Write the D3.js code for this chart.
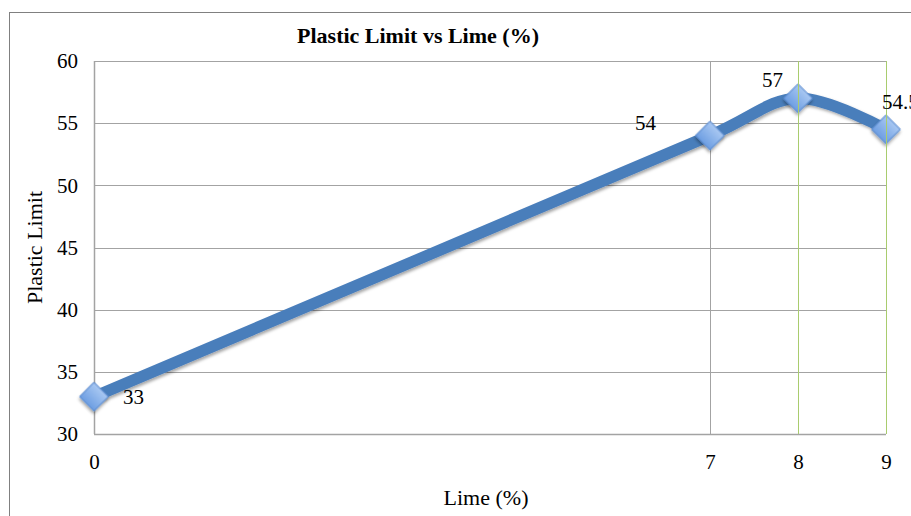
<!DOCTYPE html>
<html>
<head>
<meta charset="utf-8">
<script src="https://cdn.jsdelivr.net/npm/d3@7"></script>
<style>
  html, body { margin: 0; padding: 0; background: #fff; }
  svg { display: block; }
</style>
</head>
<body>
<svg id="chart" width="911" height="516"></svg>
<script>
// Lime content (%) and measured plastic limit
const limePercent = [0, 7, 8, 9];
const plasticLimit = [33, 54, 57, 54.5];
const yTicks = [30, 35, 40, 45, 50, 55, 60];
const xTicks = [0, 7, 8, 9];
const pointLabels = ["33", "54", "57", "54.5"];

const svg = d3.select("#chart");
const W = 911, H = 516;
const margin = { left: 94, top: 61, right: 25, bottom: 82 };

const x = d3.scaleLinear().domain([0, 9]).range([margin.left, W - margin.right]);
const y = d3.scaleLinear().domain([30, 60]).range([H - margin.bottom, margin.top]);

const serif = "'Liberation Serif', 'Times New Roman', serif";

// outer frame
svg.append("rect")
  .attr("x", 9.5).attr("y", 12.5)
  .attr("width", W).attr("height", H)
  .attr("fill", "none").attr("stroke", "#808080").attr("stroke-width", 1);

// horizontal gridlines
svg.append("g")
  .selectAll("line").data(yTicks).join("line")
  .attr("x1", x(0)).attr("x2", x(9))
  .attr("y1", d => Math.round(y(d)) + 0.5).attr("y2", d => Math.round(y(d)) + 0.5)
  .attr("stroke", "#a3a3a3").attr("stroke-width", 1);

// gray vertical gridline at 7 (behind the series)
svg.append("g")
  .selectAll("line").data(xTicks.filter(d => d === 7)).join("line")
  .attr("x1", d => Math.round(x(d)) + 0.5).attr("x2", d => Math.round(x(d)) + 0.5)
  .attr("y1", y(60)).attr("y2", y(30))
  .attr("stroke", "#a3a3a3").attr("stroke-width", 1);

// left axis line
svg.append("line")
  .attr("x1", x(0) + 0.5).attr("x2", x(0) + 0.5)
  .attr("y1", y(60)).attr("y2", y(30))
  .attr("stroke", "#a3a3a3").attr("stroke-width", 1.5);
// bottom axis line
svg.append("line")
  .attr("x1", x(0)).attr("x2", x(9))
  .attr("y1", Math.round(y(30)) + 0.5).attr("y2", Math.round(y(30)) + 0.5)
  .attr("stroke", "#a3a3a3").attr("stroke-width", 1.5);

// y tick labels
const yAxis = d3.axisLeft(y).tickValues(yTicks).tickSize(0).tickPadding(16);
const gy = svg.append("g").attr("transform", `translate(${x(0)},0)`).call(yAxis);
gy.select(".domain").remove();
gy.selectAll("text").attr("font-family", serif).attr("font-size", 21).attr("fill", "#000");

// x tick labels
const xAxis = d3.axisBottom(x).tickValues(xTicks).tickSize(0).tickPadding(20);
const gx = svg.append("g").attr("transform", `translate(0,${y(30)})`).call(xAxis);
gx.select(".domain").remove();
gx.selectAll("text").attr("font-family", serif).attr("font-size", 21).attr("fill", "#000");

// titles
svg.append("text")
  .attr("x", 418).attr("y", 43)
  .attr("text-anchor", "middle")
  .attr("font-family", serif).attr("font-size", 22).attr("font-weight", "bold")
  .text("Plastic Limit vs Lime (%)");

svg.append("text")
  .attr("x", 486).attr("y", 505)
  .attr("text-anchor", "middle")
  .attr("font-family", serif).attr("font-size", 22)
  .text("Lime (%)");

svg.append("text")
  .attr("transform", `translate(42,${y(45)}) rotate(-90)`)
  .attr("text-anchor", "middle")
  .attr("font-family", serif).attr("font-size", 22)
  .text("Plastic Limit");

// data
const pts = limePercent.map((d, i) => ({ x: d, y: plasticLimit[i], label: pointLabels[i] }));

const defs = svg.append("defs");
const grad = defs.append("linearGradient").attr("id", "mk").attr("x1", 0).attr("y1", 0).attr("x2", 0).attr("y2", 1);
grad.append("stop").attr("offset", "0%").attr("stop-color", "#a9c8f2");
grad.append("stop").attr("offset", "100%").attr("stop-color", "#6d9ee2");
const sh = defs.append("filter").attr("id", "shadow").attr("x", "-50%").attr("y", "-50%").attr("width", "200%").attr("height", "200%");
sh.append("feDropShadow").attr("dx", 1.5).attr("dy", 2).attr("stdDeviation", 1.5).attr("flood-color", "#000").attr("flood-opacity", 0.35);

const line = d3.line().x(d => x(d.x)).y(d => y(d.y)).curve(d3.curveCatmullRom.alpha(0.5));
svg.append("path")
  .datum(pts)
  .attr("d", line)
  .attr("fill", "none")
  .attr("stroke", "#4a7ebb")
  .attr("stroke-width", 11.5)
  .attr("stroke-linejoin", "round")
  .attr("filter", "url(#shadow)");

// diamond markers
const diamond = d3.symbol().type(d3.symbolSquare).size(410);
svg.append("g")
  .selectAll("path").data(pts).join("path")
  .attr("d", diamond)
  .attr("transform", d => `translate(${x(d.x)},${y(d.y)}) rotate(45)`)
  .attr("fill", "url(#mk)")
  .attr("stroke", "#5a8cd0")
  .attr("stroke-width", 1)
  .attr("filter", "url(#shadow)");

// green vertical gridlines at 8 and 9, drawn over the series
svg.append("g")
  .selectAll("line").data(xTicks.filter(d => d === 8 || d === 9)).join("line")
  .attr("x1", d => Math.round(x(d)) + 0.5).attr("x2", d => Math.round(x(d)) + 0.5)
  .attr("y1", y(60)).attr("y2", y(30))
  .attr("stroke", "#a9cc6e").attr("stroke-width", 1);

// value labels
const labelOffsets = [[29, 7], [-75, -6], [-36, -11], [-4, -20]];
svg.append("g")
  .selectAll("text").data(pts).join("text")
  .attr("x", (d, i) => x(d.x) + labelOffsets[i][0])
  .attr("y", (d, i) => y(d.y) + labelOffsets[i][1])
  .attr("font-family", serif).attr("font-size", 21).attr("fill", "#000")
  .text(d => d.label);
</script>
</body>
</html>
